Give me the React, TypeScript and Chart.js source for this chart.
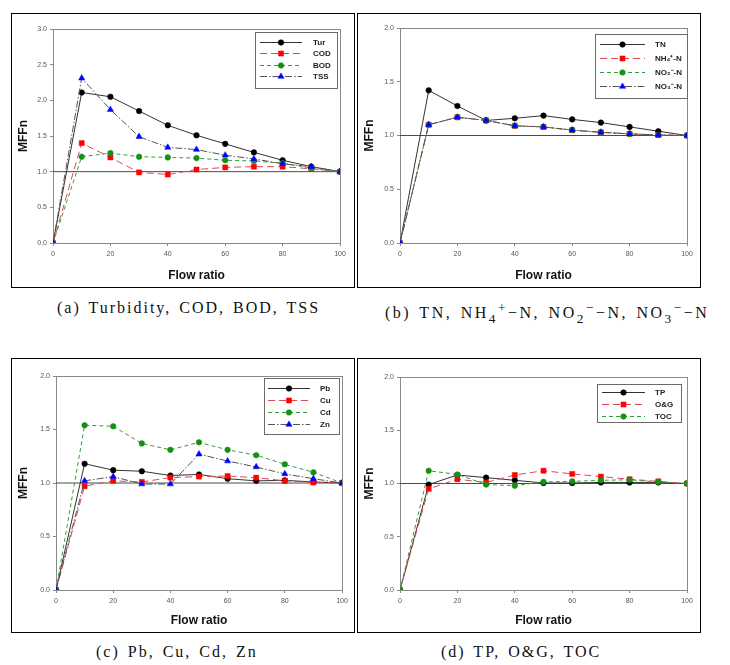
import React, { useEffect, useRef } from "react";
import { Chart, registerables } from "chart.js";
Chart.register(...registerables);

// ---------------- data ----------------
const flowRatio = [0, 10, 20, 30, 40, 50, 60, 70, 80, 90, 100];
const referenceLevel = 1.0;

// (a)
const turbidity = [0, 2.11, 2.05, 1.85, 1.65, 1.51, 1.39, 1.27, 1.16, 1.07, 1.0];
const cod = [0, 1.4, 1.2, 0.99, 0.96, 1.03, 1.06, 1.07, 1.07, 1.04, 1.0];
const bod = [0, 1.21, 1.26, 1.21, 1.2, 1.19, 1.16, 1.15, 1.12, 1.05, 1.0];
const tss = [0, 2.31, 1.87, 1.49, 1.34, 1.31, 1.23, 1.18, 1.11, 1.07, 1.0];

// (b)
const tn = [0, 1.42, 1.275, 1.14, 1.16, 1.185, 1.15, 1.12, 1.08, 1.04, 1.0];
const nh4 = [0, 1.1, 1.17, 1.14, 1.09, 1.08, 1.05, 1.03, 1.015, 1.005, 1.0];
const no2 = [0, 1.1, 1.17, 1.14, 1.09, 1.08, 1.05, 1.03, 1.015, 1.005, 1.0];
const no3 = [0, 1.1, 1.17, 1.14, 1.09, 1.08, 1.05, 1.03, 1.015, 1.005, 1.0];

// (c)
const pb = [0, 1.18, 1.12, 1.11, 1.07, 1.08, 1.04, 1.02, 1.025, 1.01, 1.0];
const cu = [0, 0.97, 1.02, 1.01, 1.05, 1.06, 1.065, 1.05, 1.02, 1.005, 1.0];
const cd = [0, 1.54, 1.53, 1.37, 1.31, 1.38, 1.31, 1.26, 1.175, 1.1, 1.0];
const zn = [0, 1.02, 1.06, 0.99, 0.99, 1.27, 1.205, 1.15, 1.085, 1.04, 1.0];

// (d)
const tp = [0, 0.99, 1.08, 1.055, 1.03, 1.005, 1.005, 1.01, 1.01, 1.01, 1.0];
const og = [0, 0.95, 1.04, 1.01, 1.08, 1.12, 1.09, 1.065, 1.04, 1.02, 1.0];
const toc = [0, 1.12, 1.085, 0.99, 0.98, 1.015, 1.02, 1.03, 1.035, 1.015, 1.0];

const xTitle = "Flow ratio";
const yTitle = "MFFn";

// ---------------- styles ----------------
const SANS = "'Liberation Sans', Arial, sans-serif";
const lineStyles = [
  { line: "#333333", fill: "#000000", point: "circle", radius: 2.8, dash: [] as number[] },
  { line: "#e0485a", fill: "#ff0000", point: "rect", radius: 3.6, dash: [7, 4] },
  { line: "#3a9a3a", fill: "#159015", point: "circle", radius: 2.8, dash: [4, 3] },
  { line: "#555555", fill: "#0000ff", point: "triangle", radius: 3.6, dash: [7, 2, 1.5, 2] },
];

type Series = { label: string; data: number[] };
type PanelCfg = {
  box: { x: number; y: number; w: number; h: number };
  plot: { l: number; t: number; r: number; b: number };
  yMax: number;
  series: Series[];
  legend: { right: number; top: number; width: number; height: number; row0: number; rowGap: number; s0: number; s1: number; tx: number };
  caption: { x: number; y: number; ls: number; ws: number };
  captionNode: React.ReactNode;
};

const panels: PanelCfg[] = [
  {
    box: { x: 11, y: 13, w: 344, h: 275 },
    plot: { l: 53, t: 29, r: 340, b: 243 },
    yMax: 3.0,
    series: [
      { label: "Tur", data: turbidity },
      { label: "COD", data: cod },
      { label: "BOD", data: bod },
      { label: "TSS", data: tss },
    ],
    legend: { right: 3, top: 3, width: 82, height: 56, row0: 10, rowGap: 11.4, s0: 5, s1: 47, tx: 58 },
    caption: { x: 57, y: 298, ls: 2, ws: 2 },
    captionNode: <>(a) Turbidity, COD, BOD, TSS</>,
  },
  {
    box: { x: 357, y: 13, w: 344, h: 275 },
    plot: { l: 400, t: 28, r: 687, b: 243 },
    yMax: 2.0,
    series: [
      { label: "TN", data: tn },
      { label: "NH\u2084\u207A-N", data: nh4 },
      { label: "NO\u2082\u207B-N", data: no2 },
      { label: "NO\u2083\u207B-N", data: no3 },
    ],
    legend: { right: 0, top: 6, width: 92, height: 64, row0: 10, rowGap: 14, s0: 5, s1: 50, tx: 60 },
    caption: { x: 385, y: 298, ls: 2.5, ws: 2 },
    captionNode: (
      <>
        (b) TN, NH<sub>4</sub>
        <sup>+</sup>−N, NO<sub>2</sub>
        <sup>−</sup>−N, NO<sub>3</sub>
        <sup>−</sup>−N
      </>
    ),
  },
  {
    box: { x: 11, y: 358, w: 344, h: 275 },
    plot: { l: 56, t: 376, r: 342, b: 590 },
    yMax: 2.0,
    series: [
      { label: "Pb", data: pb },
      { label: "Cu", data: cu },
      { label: "Cd", data: cd },
      { label: "Zn", data: zn },
    ],
    legend: { right: 3, top: 2, width: 75, height: 56, row0: 10, rowGap: 12, s0: 4, s1: 46, tx: 56 },
    caption: { x: 96, y: 642, ls: 2, ws: 2 },
    captionNode: <>(c) Pb, Cu, Cd, Zn</>,
  },
  {
    box: { x: 357, y: 358, w: 344, h: 275 },
    plot: { l: 400, t: 377, r: 687, b: 590 },
    yMax: 2.0,
    series: [
      { label: "TP", data: tp },
      { label: "O&G", data: og },
      { label: "TOC", data: toc },
    ],
    legend: { right: 6, top: 7, width: 84, height: 38, row0: 8, rowGap: 12, s0: 5, s1: 48, tx: 58 },
    caption: { x: 441, y: 642, ls: 2, ws: 2 },
    captionNode: <>(d) TP, O&amp;G, TOC</>,
  },
];

// ---------------- plugins ----------------
function drawMarker(ctx: CanvasRenderingContext2D, style: string, r: number, x: number, y: number, color: string) {
  ctx.save();
  ctx.fillStyle = color;
  ctx.strokeStyle = color;
  ctx.lineWidth = 0.5;
  ctx.setLineDash([]);
  ctx.beginPath();
  if (style === "rect") {
    const s = Math.SQRT1_2 * r;
    ctx.rect(x - s, y - s, 2 * s, 2 * s);
  } else if (style === "triangle") {
    let rad = 0;
    ctx.moveTo(x + Math.sin(rad) * r, y - Math.cos(rad) * r);
    rad += (2 * Math.PI) / 3;
    ctx.lineTo(x + Math.sin(rad) * r, y - Math.cos(rad) * r);
    rad += (2 * Math.PI) / 3;
    ctx.lineTo(x + Math.sin(rad) * r, y - Math.cos(rad) * r);
    ctx.closePath();
  } else {
    ctx.arc(x, y, r, 0, Math.PI * 2);
  }
  ctx.fill();
  ctx.stroke();
  ctx.restore();
}

const framePlugin = {
  id: "frame",
  beforeDatasetsDraw(chart: any) {
    const { ctx, chartArea: a } = chart;
    ctx.save();
    ctx.strokeStyle = "#8a8a8a";
    ctx.lineWidth = 1;
    ctx.strokeRect(Math.round(a.left) + 0.5, Math.round(a.top) + 0.5, Math.round(a.right - a.left), Math.round(a.bottom - a.top));
    ctx.restore();
  },
};

const boxLegendPlugin = {
  id: "boxLegend",
  afterDatasetsDraw(chart: any, _args: any, opts: any) {
    if (!opts || !opts.width) return;
    const { ctx, chartArea: a } = chart;
    const x0 = Math.round(a.right - opts.right - opts.width);
    const y0 = Math.round(a.top + opts.top);
    ctx.save();
    ctx.fillStyle = "#ffffff";
    ctx.fillRect(x0, y0, opts.width, opts.height);
    ctx.strokeStyle = "#6a6a6a";
    ctx.lineWidth = 1;
    ctx.strokeRect(x0 + 0.5, y0 + 0.5, opts.width, opts.height);
    const items = chart.data.datasets.filter((d: any) => !d.isReference);
    items.forEach((d: any, i: number) => {
      const y = Math.round(y0 + opts.row0 + i * opts.rowGap) + 0.5;
      ctx.save();
      ctx.strokeStyle = d.borderColor;
      ctx.lineWidth = 1;
      ctx.setLineDash(d.borderDash || []);
      ctx.beginPath();
      ctx.moveTo(x0 + opts.s0, y);
      ctx.lineTo(x0 + opts.s1, y);
      ctx.stroke();
      ctx.restore();
      drawMarker(ctx, d.pointStyle, d.pointRadius, x0 + (opts.s0 + opts.s1) / 2, y, d.pointBackgroundColor);
      ctx.fillStyle = "#222";
      ctx.font = `bold 8px ${SANS}`;
      ctx.textBaseline = "middle";
      ctx.textAlign = "left";
      ctx.fillText(d.label, x0 + opts.tx, y);
    });
    ctx.restore();
  },
};

// ---------------- components ----------------
function Panel({ cfg }: { cfg: PanelCfg }) {
  const ref = useRef<HTMLCanvasElement | null>(null);
  const innerW = cfg.box.w - 2;
  const innerH = cfg.box.h - 2;
  useEffect(() => {
    if (!ref.current) return;
    const ix = cfg.box.x + 1;
    const iy = cfg.box.y + 1;
    const yW = cfg.plot.l - ix;
    const padTop = cfg.plot.t - iy;
    const padRight = innerW - (cfg.plot.r - ix);
    const xH = innerH - (cfg.plot.b - iy);
    const n = cfg.series.length;
    const datasets: any[] = cfg.series.map((s, i) => {
      const st = lineStyles[i];
      return {
        label: s.label,
        data: flowRatio.map((x, k) => ({ x, y: s.data[k] })),
        borderColor: st.line,
        borderWidth: 1,
        borderDash: st.dash,
        pointStyle: st.point,
        pointRadius: st.radius,
        pointBackgroundColor: st.fill,
        pointBorderColor: st.fill,
        pointBorderWidth: 0.5,
        fill: false,
        tension: 0,
        order: n - i,
      };
    });
    datasets.push({
      label: "ref",
      isReference: true,
      data: [
        { x: flowRatio[0], y: referenceLevel },
        { x: flowRatio[flowRatio.length - 1], y: referenceLevel },
      ],
      borderColor: "#4a4a4a",
      borderWidth: 1,
      pointRadius: 0,
      fill: false,
      order: 100,
    });
    const tickFont = { size: 7, family: SANS };
    const titleFont = { size: 12, weight: "bold" as const, family: SANS };
    const chart = new Chart(ref.current, {
      type: "line",
      data: { datasets },
      options: {
        responsive: false,
        animation: false,
        devicePixelRatio: 1,
        layout: { padding: { left: 0, top: padTop, right: padRight, bottom: 0 } },
        plugins: {
          legend: { display: false },
          tooltip: { enabled: false },
          boxLegend: cfg.legend,
        } as any,
        scales: {
          x: {
            type: "linear",
            min: flowRatio[0],
            max: flowRatio[flowRatio.length - 1],
            ticks: { stepSize: 20, font: tickFont, color: "#555", padding: 4, maxRotation: 0 },
            grid: { display: true, drawOnChartArea: false, drawTicks: true, tickLength: 3, color: "#8a8a8a" },
            border: { display: true, color: "#8a8a8a" },
            title: { display: true, text: xTitle, font: titleFont, color: "#111", padding: { top: 2, bottom: 4 } },
            afterFit: (s: any) => {
              s.height = xH;
            },
          },
          y: {
            type: "linear",
            min: 0,
            max: cfg.yMax,
            ticks: { stepSize: 0.5, font: tickFont, color: "#555", padding: 3, callback: (v: any) => Number(v).toFixed(1) },
            grid: { display: true, drawOnChartArea: false, drawTicks: true, tickLength: 3, color: "#8a8a8a" },
            border: { display: true, color: "#8a8a8a" },
            title: { display: true, text: yTitle, font: titleFont, color: "#111", padding: { top: 4, bottom: 2 } },
            afterFit: (s: any) => {
              s.width = yW;
            },
          },
        } as any,
      },
      plugins: [framePlugin, boxLegendPlugin] as any,
    });
    return () => chart.destroy();
  }, [cfg]);

  return (
    <>
      <div
        style={{
          position: "absolute",
          left: cfg.box.x,
          top: cfg.box.y,
          width: cfg.box.w,
          height: cfg.box.h,
          boxSizing: "border-box",
          border: "1px solid #000",
          background: "#fff",
        }}
      >
        <canvas ref={ref} width={innerW} height={innerH} style={{ display: "block", width: innerW, height: innerH }} />
      </div>
      <div
        style={{
          position: "absolute",
          left: cfg.caption.x,
          top: cfg.caption.y,
          whiteSpace: "nowrap",
          fontFamily: "'Liberation Serif', 'DejaVu Serif', serif",
          fontSize: 16,
          lineHeight: "20px",
          letterSpacing: `${cfg.caption.ls}px`,
          wordSpacing: `${cfg.caption.ws}px`,
          color: "#111",
        }}
      >
        {cfg.captionNode}
      </div>
    </>
  );
}

export default function App() {
  return (
    <div style={{ position: "absolute", left: 0, top: 0, width: 730, height: 665, background: "#fff", overflow: "hidden" }}>
      {panels.map((p, i) => (
        <Panel key={i} cfg={p} />
      ))}
    </div>
  );
}
